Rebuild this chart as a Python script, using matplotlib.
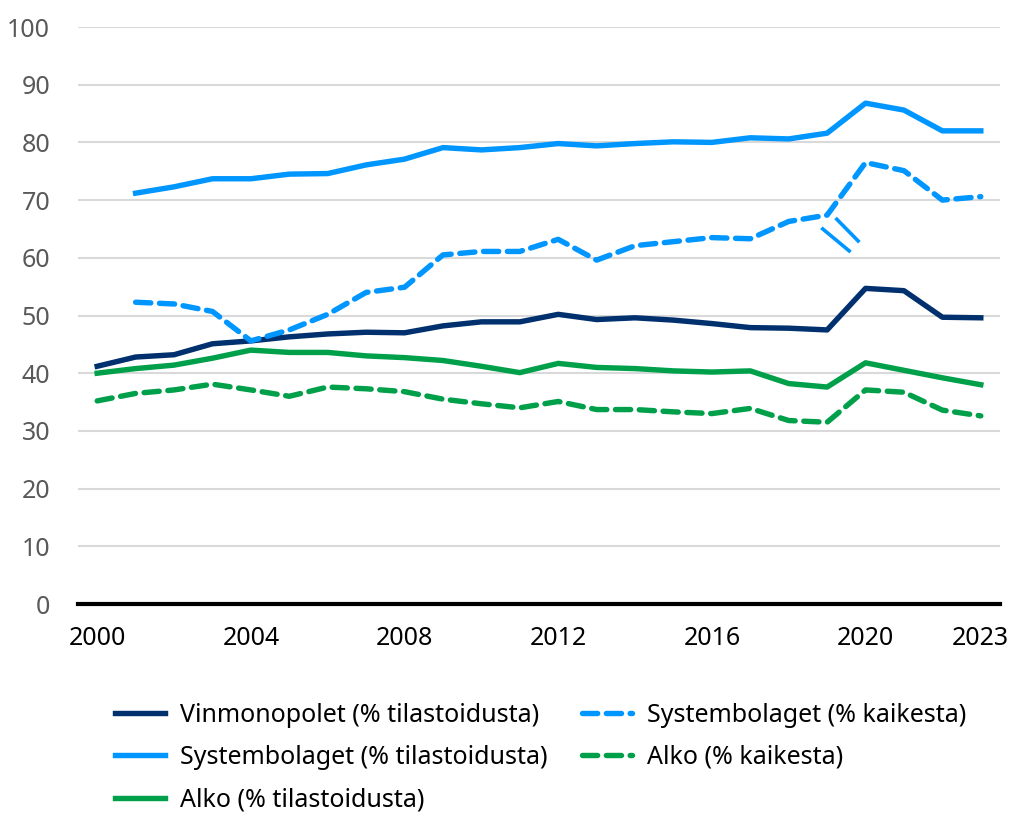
import matplotlib.pyplot as plt
import numpy as np

plt.rcParams['font.family'] = ['Noto Sans', 'DejaVu Sans']

years = list(range(2000, 2024))

vinmonopolet = [41.2, 42.8, 43.2, 45.1, 45.6, 46.3, 46.8, 47.1, 47.0, 48.2, 48.9, 48.9,
                 50.2, 49.3, 49.6, 49.2, 48.6, 47.9, 47.8, 47.5, 54.7, 54.3, 49.7, 49.6]
syst_tilast = [np.nan, 71.2, 72.3, 73.7, 73.7, 74.5, 74.6, 76.1, 77.1, 79.1, 78.7, 79.1,
               79.8, 79.4, 79.8, 80.1, 80.0, 80.8, 80.6, 81.6, 86.8, 85.6, 82.0, 82.0]
alko_tilast = [40.0, 40.8, 41.4, 42.6, 44.0, 43.6, 43.6, 43.0, 42.7, 42.2, 41.2, 40.1,
               41.7, 41.0, 40.8, 40.4, 40.2, 40.4, 38.2, 37.6, 41.8, 40.5, 39.2, 38.0]
syst_kaikesta = [np.nan, 52.3, 52.0, 50.7, 45.6, 47.5, 50.2, 54.0, 54.9, 60.5, 61.1, 61.1,
                 63.2, 59.6, 62.1, 62.8, 63.5, 63.3, 66.3, 67.4, 76.5, 75.1, 70.0, 70.6]
alko_kaikesta = [35.2, 36.5, 37.1, 38.1, 37.1, 36.0, 37.6, 37.3, 36.8, 35.5, 34.7, 34.0,
                 35.1, 33.7, 33.7, 33.3, 33.0, 33.9, 31.8, 31.5, 37.1, 36.7, 33.6, 32.6]

tick_years = [2000, 2004, 2008, 2012, 2016, 2020, 2023]

navy = '#00306E'
blue = '#0096FF'
green = '#00A04B'

fig = plt.figure(figsize=(10.13, 8.18), dpi=100)
ax = fig.add_axes([78 / 1013, 214 / 818, 922 / 1013, 577 / 818])

x = np.arange(len(years))
lw = 3.9
dash = (2.8, 1.6)

h1, = ax.plot(x, vinmonopolet, color=navy, lw=lw, label='Vinmonopolet (% tilastoidusta)')
h2, = ax.plot(x, syst_tilast, color=blue, lw=lw, label='Systembolaget (% tilastoidusta)')
h3, = ax.plot(x, alko_tilast, color=green, lw=lw, label='Alko (% tilastoidusta)')
h4, = ax.plot(x, syst_kaikesta, color=blue, lw=lw, ls=(0, dash), dash_capstyle='round',
              label='Systembolaget (% kaikesta)')
h5, = ax.plot(x, alko_kaikesta, color=green, lw=lw, ls=(0, dash), dash_capstyle='round',
              label='Alko (% kaikesta)')

# break marks on the dashed series between 2019 and 2020
ax.plot([18.85, 19.61], [65.2, 61.0], color=blue, lw=2.6, solid_capstyle='butt')
ax.plot([19.22, 19.84], [66.9, 62.7], color=blue, lw=2.6, solid_capstyle='butt')

ax.set_xlim(-0.5, len(years) - 0.5)
ax.set_ylim(0, 100)
ax.set_yticks(range(0, 101, 10))
ax.set_xticks([years.index(y) for y in tick_years])
ax.set_xticklabels([str(y) for y in tick_years])

ax.grid(axis='y', color='#d9d9d9', lw=1.5)
ax.set_axisbelow(True)
for s in ['top', 'right', 'left']:
    ax.spines[s].set_visible(False)
ax.spines['bottom'].set_linewidth(3)
ax.spines['bottom'].set_color('black')
ax.spines['bottom'].set_zorder(5)
ax.tick_params(axis='both', length=0)
ax.tick_params(axis='y', labelsize=18, labelcolor='#595959', pad=20)
ax.tick_params(axis='x', labelsize=18, labelcolor='black', pad=16)

fig.legend(handles=[h1, h2, h3, h4, h5], loc='upper left', bbox_to_anchor=(92 / 1013, 1 - 680 / 818),
           ncol=2, frameon=False, fontsize=18, handlelength=2.0, handletextpad=0.6,
           columnspacing=1.4, labelspacing=0.7)

fig.savefig('out.png', dpi=100)
